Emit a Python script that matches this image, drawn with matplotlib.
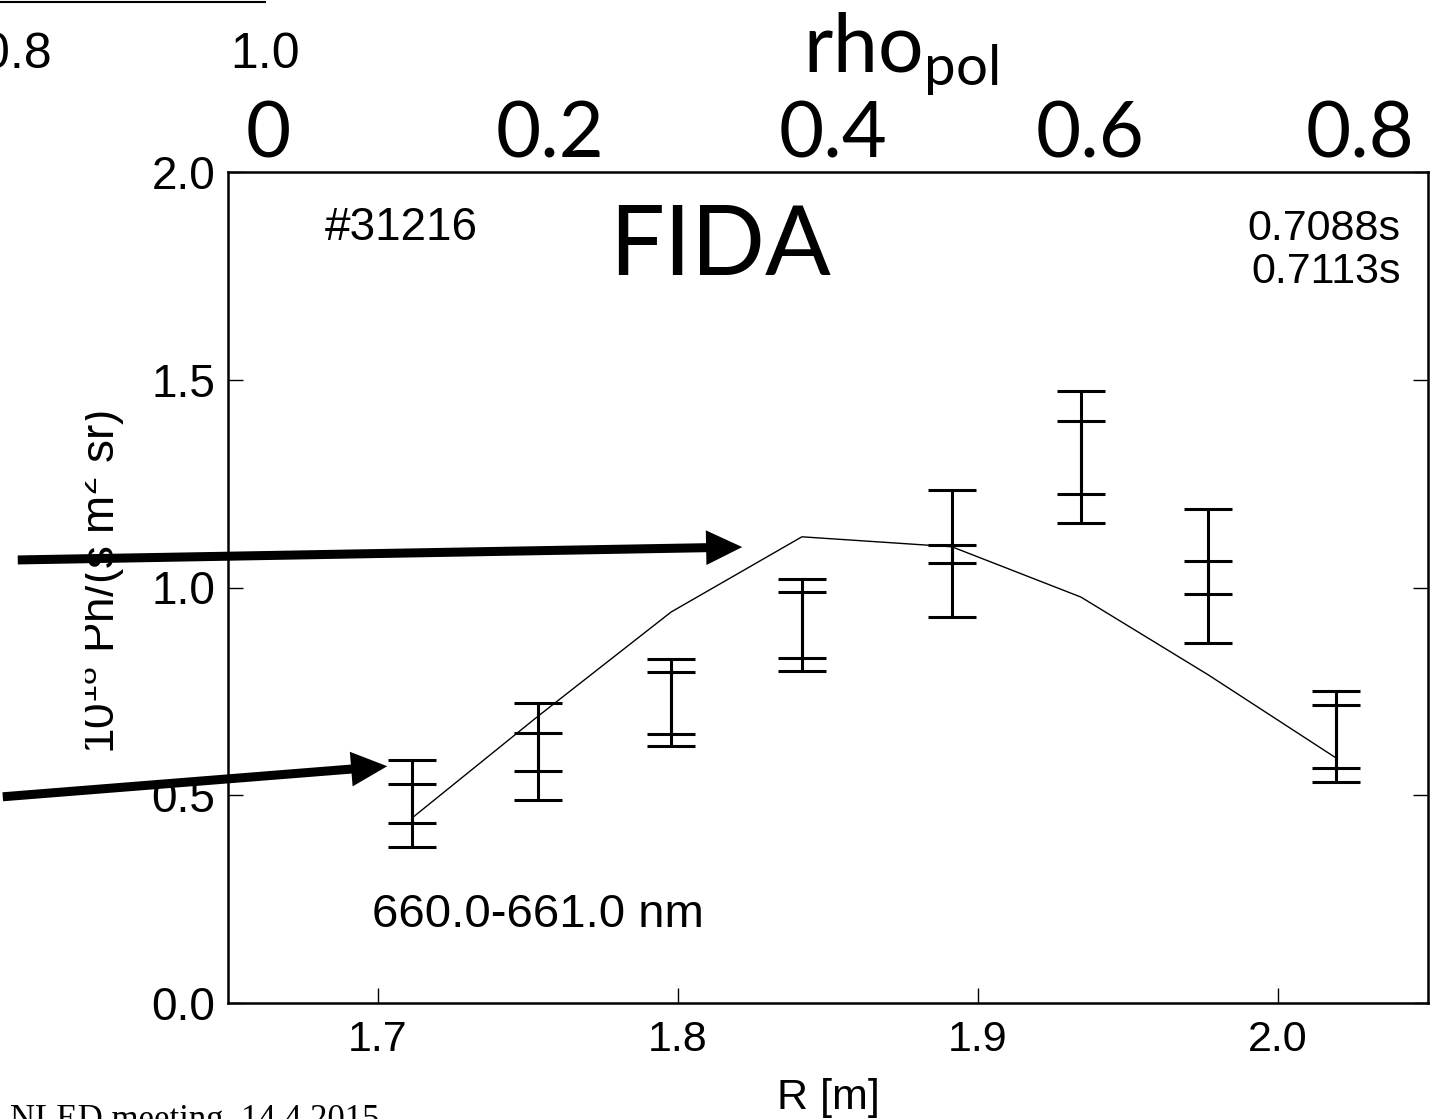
import matplotlib
matplotlib.use('Agg')
import matplotlib.pyplot as plt
from matplotlib.patches import FancyArrowPatch
from matplotlib.lines import Line2D
from matplotlib.transforms import Bbox, TransformedBbox

plt.rcParams['font.family'] = ['Liberation Sans', 'DejaVu Sans']
plt.rcParams['mathtext.fontset'] = 'custom'
plt.rcParams['mathtext.rm'] = 'Lato'

# measured FIDA radiance at two time points (value +- error)
R = [1.7113, 1.7533, 1.7977, 1.8413, 1.8913, 1.9343, 1.9767, 2.0193]
fida_t1 = [0.509, 0.640, 0.738, 0.925, 1.147, 1.349, 1.086, 0.659]
err_t1 = [0.076, 0.082, 0.091, 0.095, 0.088, 0.124, 0.102, 0.093]
fida_t2 = [0.451, 0.570, 0.708, 0.894, 1.016, 1.278, 0.965, 0.625]
err_t2 = [0.076, 0.081, 0.089, 0.095, 0.087, 0.123, 0.099, 0.093]
# simulated profile
fidasim = [0.445, 0.690, 0.941, 1.122, 1.098, 0.977, 0.790, 0.590]

times = ['0.7088s', '0.7113s']
rho_labels = ['0', '0.2', '0.4', '0.6', '0.8']
rho_R = [1.6633, 1.7573, 1.8517, 1.9373, 2.0273]
r_ticks = [1.7, 1.8, 1.9, 2.0]
y_ticks = [0.0, 0.5, 1.0, 1.5, 2.0]

W, H = 1441, 1119
fig = plt.figure(figsize=(W / 100, H / 100), dpi=100)
ax = fig.add_axes([228 / W, 1 - 1003 / H, 1200 / W, 831 / H])

for vals, errs in [(fida_t1, err_t1), (fida_t2, err_t2)]:
    ax.errorbar(R, vals, yerr=errs, fmt='none', ecolor='k', elinewidth=2.2,
                capsize=17, capthick=2.2)
ax.plot(R, fidasim, color='k', lw=1.0)

ax.set_xlim(1.65, 2.05)
ax.set_ylim(0, 2.0)
ax.set_xticks(r_ticks)
ax.set_yticks(y_ticks)
ax.set_xticklabels([f'{t:.1f}' for t in r_ticks])
ax.set_yticklabels([f'{t:.1f}' for t in y_ticks])
ax.tick_params(direction='in', length=11, width=1.0, top=True, right=True)
ax.tick_params(axis='x', pad=12, labelsize=31)
ax.tick_params(axis='y', pad=9, labelsize=33)
for s in ax.spines.values():
    s.set_linewidth(1.8)
ax.set_xlabel('R [m]', fontsize=31, labelpad=13)

ax.text(0.081, 0.918, '#31216', transform=ax.transAxes, fontsize=33,
        va='baseline')
ax.text(0.977, 0.918, times[0], transform=ax.transAxes, fontsize=31,
        va='baseline', ha='right')
ax.text(0.977, 0.866, times[1], transform=ax.transAxes, fontsize=31,
        va='baseline', ha='right')
ax.text(0.41, 0.876, 'FIDA', transform=ax.transAxes, fontsize=70,
        family='Lato', va='baseline', ha='center')
ax.text(0.12, 0.0915, '660.0-661.0 nm', transform=ax.transAxes, fontsize=34,
        va='baseline')

# rho_pol axis on top
ax2 = ax.twiny()
ax2.set_xlim(ax.get_xlim())
ax2.set_xticks(rho_R)
ax2.set_xticklabels(rho_labels, family='Lato', fontsize=56)
ax2.tick_params(length=0, pad=0)
for s in ax2.spines.values():
    s.set_visible(False)
fig.text(901 / W, 1 - 73 / H, r'rho$_{\mathrm{pol}}$', family='Lato',
         fontsize=58, ha='center', va='baseline')

# y label, clipped at the left like in the slide
ylab = fig.text(115 / W, 1 - 582 / H,
                r'10$\mathregular{^{18}}$ Ph/(s m$\mathregular{^{2}}$ sr)',
                rotation=90, rotation_mode='anchor', fontsize=33,
                ha='center', va='baseline')
ylab.set_clip_box(TransformedBbox(Bbox([[85 / W, 0], [1, 1]]), fig.transFigure))
ylab.set_clip_on(True)

# remains of the neighbouring plot and slide footer
fig.add_artist(Line2D([0, 265 / W], [1 - 1.5 / H] * 2, transform=fig.transFigure,
                      color='k', lw=1.5))
fig.text(52 / W, 1 - 68 / H, '0.8', fontsize=36, ha='right', va='baseline')
fig.text(265 / W, 1 - 68 / H, '1.0', fontsize=36, ha='center', va='baseline')
fig.text(10 / W, 1 - 1129 / H, 'NLED meeting, 14.4.2015',
         family='Liberation Serif', fontsize=25, va='baseline')

# arrows pointing to the profile
for tail, tip in [((15, 560), (745, 547)), ((0, 797), (390, 766))]:
    arr = FancyArrowPatch((tail[0] / W, 1 - tail[1] / H), (tip[0] / W, 1 - tip[1] / H),
                          transform=fig.transFigure,
                          arrowstyle='simple,head_length=26,head_width=25,tail_width=6.5',
                          mutation_scale=1, color='k', lw=0)
    fig.add_artist(arr)

fig.savefig('out.png', dpi=100)
